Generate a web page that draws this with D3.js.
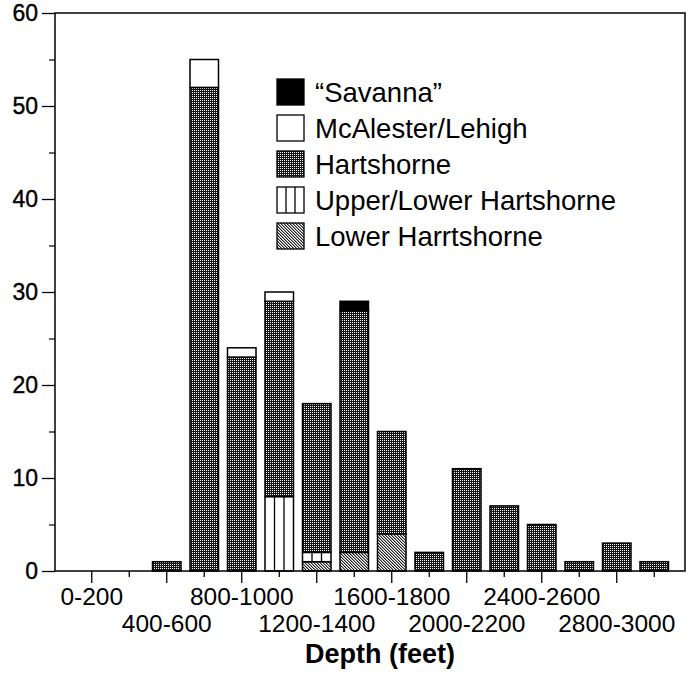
<!DOCTYPE html>
<html><head><meta charset="utf-8">
<script src="https://cdn.jsdelivr.net/npm/d3@7"></script>
<style>body{margin:0;background:#fff}svg{display:block}text{font-family:"Liberation Sans",Arial,sans-serif;fill:#000}</style>
</head><body>
<svg id="c" width="690" height="675"></svg>
<script>
const categories = ["0-200","200-400","400-600","600-800","800-1000","1000-1200","1200-1400","1400-1600","1600-1800","1800-2000","2000-2200","2200-2400","2400-2600","2600-2800","2800-3000","3000-3200"];
const lowerHarrtshorne = [0,0,0,0,0,0,1,2,4,0,0,0,0,0,0,0];
const upperLowerHartshorne = [0,0,0,0,0,8,1,0,0,0,0,0,0,0,0,0];
const hartshorne = [0,0,1,52,23,21,16,26,11,2,11,7,5,1,3,1];
const mcalesterLehigh = [0,0,0,3,1,1,0,0,0,0,0,0,0,0,0,0];
const savanna = [0,0,0,0,0,0,0,1,0,0,0,0,0,0,0,0];
const seriesNames = ["Lower Harrtshorne","Upper/Lower Hartshorne","Hartshorne","McAlester/Lehigh","\u201cSavanna\u201d"];
const seriesValues = [lowerHarrtshorne, upperLowerHartshorne, hartshorne, mcalesterLehigh, savanna];
const yMajorTicks = [0,10,20,30,40,50,60];
const yMinorTicks = [5,15,25,35,45,55];
const xTickLabels = ["0-200","400-600","800-1000","1200-1400","1600-1800","2000-2200","2400-2600","2800-3000"];
const xTitle = "Depth (feet)";

const svg = d3.select("#c");
const defs = svg.append("defs");
// Hartshorne: dark dither
const p1 = defs.append("pattern").attr("id","hart").attr("width",2).attr("height",2).attr("patternUnits","userSpaceOnUse");
p1.append("rect").attr("width",2).attr("height",2).attr("fill","#151515");
p1.append("rect").attr("width",1).attr("height",1).attr("fill","#fff");
// Lower Harrtshorne: lighter diagonal dither
const p2 = defs.append("pattern").attr("id","lower").attr("width",3).attr("height",3).attr("patternUnits","userSpaceOnUse");
p2.append("rect").attr("width",3).attr("height",3).attr("fill","#fff");
[[0,0],[1,1],[2,2],[1,0],[2,1],[0,2]].forEach(([a,b],i)=>p2.append("rect").attr("x",a).attr("y",b).attr("width",1).attr("height",1).attr("fill", i<3?"#222":"#999"));

const fills = ["url(#lower)","#fff","url(#hart)","#fff","#000"];

const L = 55, R = 685, T = 13, B = 571;
const x = d3.scaleBand().domain(categories).range([73, 673]).paddingInner(0.24).paddingOuter(0.12);
const y = d3.scaleLinear().domain([0,60]).range([B, T]);

const table = categories.map((c,i)=>{const o={cat:c}; seriesNames.forEach((n,k)=>o[n]=seriesValues[k][i]); return o;});
const stacked = d3.stack().keys(seriesNames)(table);

const gBars = svg.append("g");
stacked.forEach((layer,k)=>{
  const g = gBars.append("g");
  layer.forEach(d=>{
    if (d[1]-d[0] <= 0) return;
    const x0 = x(d.data.cat), w = x.bandwidth(), y0 = y(d[1]), h = y(d[0]) - y(d[1]);
    g.append("rect").attr("x",x0).attr("y",y0).attr("width",w).attr("height",h)
      .attr("fill",fills[k]).attr("stroke","#000").attr("stroke-width",1.5);
    if (k===1) {
      [1/3,2/3].forEach(f=>g.append("line").attr("x1",x0+w*f).attr("x2",x0+w*f).attr("y1",y0).attr("y2",y0+h).attr("stroke","#000").attr("stroke-width",1.3));
    }
  });
});

// frame
svg.append("rect").attr("x",L).attr("y",T).attr("width",R-L).attr("height",B-T).attr("fill","none").attr("stroke","#000").attr("stroke-width",1.5);

// y axis
const yAx = svg.append("g").attr("transform",`translate(${L},0)`).call(d3.axisLeft(y).tickValues(yMajorTicks).tickSize(13).tickPadding(4).tickFormat(d3.format("d")));
yAx.select(".domain").remove();
yAx.selectAll("line").attr("stroke-width",1.3);
yAx.selectAll("text").attr("font-size",23).attr("font-family","Liberation Sans, Arial, sans-serif").attr("fill","#000").attr("stroke","#000").attr("stroke-width",0.4);
const yMin = svg.append("g").attr("transform",`translate(${L},0)`).call(d3.axisLeft(y).tickValues(yMinorTicks).tickSize(6).tickFormat(""));
yMin.select(".domain").remove();
yMin.selectAll("line").attr("stroke-width",1.2);

// x axis ticks
const xAx = svg.append("g").attr("transform",`translate(0,${B})`).call(d3.axisBottom(x).tickSize(6).tickFormat(""));
xAx.select(".domain").remove();
xAx.selectAll(".tick line").attr("stroke-width",1.3).attr("y2",(d,i)=> i%2===0 ? 12 : 6);

// x labels, staggered
svg.append("g").selectAll("text").data(xTickLabels).join("text")
  .attr("x",(d,i)=> x(categories[i*2]) + x.bandwidth()/2)
  .attr("y",(d,i)=> i%2===0 ? 605 : 632)
  .attr("text-anchor","middle").attr("font-size",24.5).text(d=>d);

svg.append("text").attr("x",380).attr("y",663).attr("text-anchor","middle")
  .attr("font-size",27).attr("font-weight","bold").text(xTitle);

// legend (top to bottom: Savanna ... Lower)
const legendOrder = [4,3,2,1,0];
const lg = svg.append("g");
legendOrder.forEach((k,r)=>{
  const ty = 79 + r*36;
  lg.append("rect").attr("x",277).attr("y",ty).attr("width",27).attr("height",26)
    .attr("fill",fills[k]).attr("stroke","#000").attr("stroke-width",1.3);
  if (k===1) [1/3,2/3].forEach(f=>lg.append("line").attr("x1",277+27*f).attr("x2",277+27*f).attr("y1",ty).attr("y2",ty+26).attr("stroke","#000").attr("stroke-width",1.3));
  lg.append("text").attr("x",315).attr("y",ty+23).attr("font-size",27.5).text(seriesNames[k]);
});
</script>
</body></html>
